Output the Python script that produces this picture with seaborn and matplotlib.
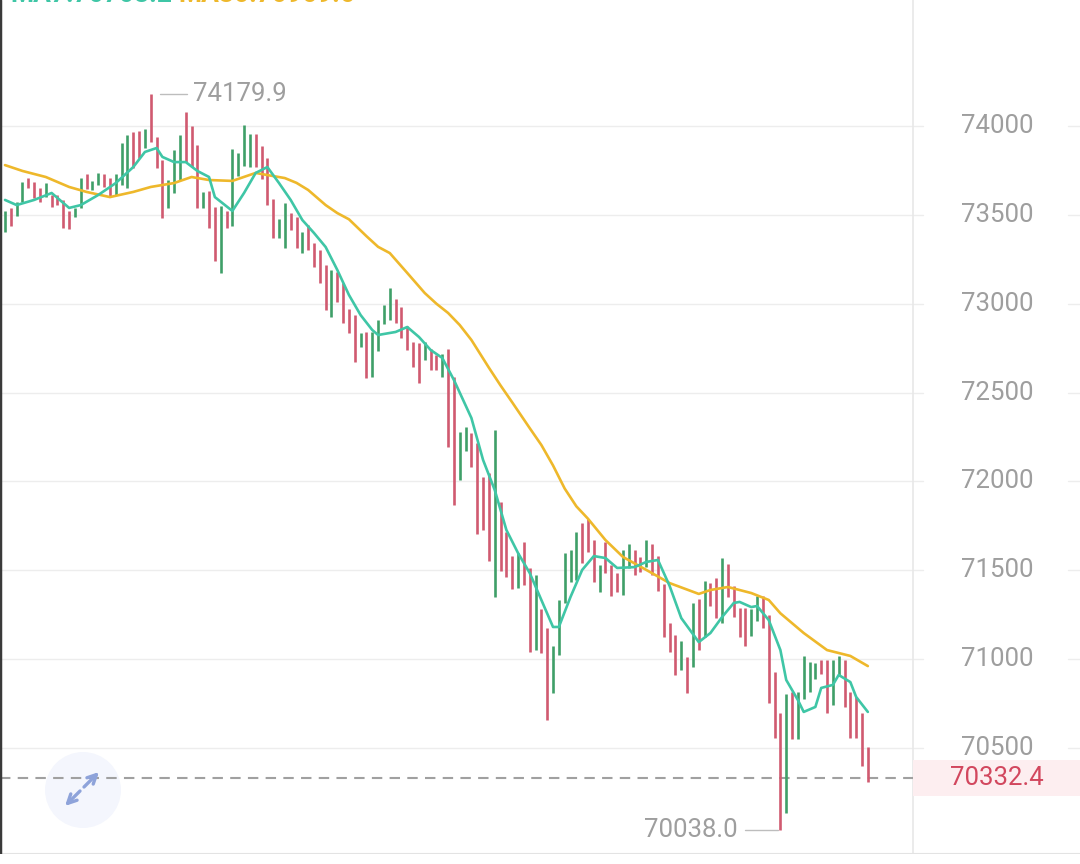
import numpy as np
import pandas as pd
import matplotlib
matplotlib.use("Agg")
import matplotlib.pyplot as plt
from matplotlib.patches import Ellipse, Rectangle
import seaborn as sns

# candle highs / lows / direction (G = up, R = down)
high = [73522, 73539, 73572, 73685, 73707, 73685, 73651, 73679, 73612, 73612,
        73584, 73522, 73539, 73707, 73730, 73691, 73736, 73730, 73707, 73730,
        73904, 73949, 73966, 73972, 73983, 74179.9, 73938, 73809, 73696, 73865,
        73949, 74079, 74000, 73893, 73629, 73634, 73544, 73550, 73522, 73871,
        73848, 74006, 73955, 73955, 73887, 73820, 73589, 73477, 73567, 73510,
        73488, 73404, 73443, 73342, 73302, 73218, 73190, 73178, 73117, 72970,
        72936, 72835, 72841, 72841, 72908, 72993, 73088, 73026, 72981, 72875,
        72785, 72779, 72785, 72745, 72711, 72717, 72745, 72588, 72278, 72306,
        72273, 72216, 72025, 72047, 72289, 71884, 71715, 71580, 71597, 71659,
        71513, 71473, 71282, 71175, 71074, 71333, 71597, 71614, 71715, 71766,
        71789, 71670, 71530, 71659, 71530, 71485, 71614, 71648, 71614, 71575,
        71670, 71648, 71580, 71423, 71203, 71136, 71102, 71012, 71316, 71338,
        71440, 71428, 71457, 71569, 71535, 71412, 71288, 71288, 71282, 71355,
        71355, 71248, 70928, 70697, 70804, 70815, 70815, 71017, 70984, 70978,
        70995, 70995, 70995, 71018, 70995, 70815, 70787, 70697, 70506]
low = [73404, 73437, 73494, 73572, 73651, 73595, 73572, 73600, 73544, 73555,
       73426, 73420, 73488, 73539, 73646, 73640, 73668, 73657, 73600, 73612,
       73668, 73651, 73764, 73820, 73876, 73910, 73764, 73482, 73539, 73623,
       73696, 73797, 73769, 73539, 73539, 73426, 73240, 73173, 73426, 73437,
       73719, 73775, 73769, 73769, 73702, 73555, 73370, 73370, 73314, 73415,
       73314, 73285, 73302, 73207, 73117, 72965, 72925, 73010, 72891, 72835,
       72672, 72756, 72582, 72588, 72734, 72886, 72908, 72891, 72807, 72740,
       72644, 72554, 72683, 72627, 72627, 72588, 72194, 71867, 72008, 72171,
       72081, 71704, 71727, 71552, 71350, 71496, 71462, 71395, 71400, 71417,
       71040, 71051, 71035, 70658, 70810, 71023, 71316, 71434, 71445, 71541,
       71603, 71434, 71378, 71485, 71355, 71378, 71361, 71513, 71473, 71490,
       71518, 71473, 71383, 71125, 71040, 70911, 70939, 70810, 70956, 71051,
       71125, 71299, 71231, 71203, 71350, 71237, 71125, 71074, 71130, 71215,
       71175, 70753, 70556, 70038.0, 70134, 70551, 70551, 70775, 70815, 70888,
       70916, 70697, 70742, 70905, 70731, 70556, 70556, 70399, 70309]
direction = list("GRGGRRRGRRRRGGRGGRRGGGRRGRRRGGGRRRGRRGRGGGGRRRRGGRRGRRRRGRRRRGRGGGGRRRRRGRRGRRGGRRRRGRRRGRRGRRGGGGGRRRGRRRGGRRGRRRRRGRGRGRRGRRRRGGRRRRGRGGGGRRGGRRRRR")
last_price = 70332.4

# moving averages read at selected candles
ma7_at = [1, 3, 6, 9, 12, 14, 17, 20, 23, 25, 27, 28, 30, 32, 34, 36, 37, 40, 42, 44,
          46, 48, 50, 52, 54, 56, 58, 60, 62, 64, 65, 68, 70, 72, 74, 76, 78, 81, 83, 85,
          87, 89, 91, 93, 95, 96, 98, 100, 102, 104, 106, 109, 111, 113, 115, 117, 120, 122,
          124, 126, 127, 129, 130, 132, 134, 135, 137, 138, 140, 141, 143, 144, 146, 147, 149]
ma7 = [73584, 73555, 73584, 73623, 73539, 73555, 73612, 73679, 73769, 73854, 73876, 73826,
       73797, 73797, 73747, 73713, 73600, 73522, 73623, 73736, 73769, 73679, 73584, 73471,
       73398, 73319, 73190, 73049, 72936, 72852, 72824, 72841, 72869, 72813, 72740, 72695,
       72571, 72357, 72121, 71952, 71727, 71597, 71485, 71333, 71181, 71181, 71350, 71502,
       71580, 71569, 71513, 71518, 71547, 71558, 71412, 71231, 71096, 71147, 71237, 71316,
       71322, 71293, 71299, 71220, 71051, 70883, 70770, 70703, 70731, 70838, 70855, 70911,
       70871, 70787, 70703]
ma30_at = [1, 4, 8, 12, 15, 19, 23, 26, 30, 33, 36, 40, 44, 46, 49, 51, 53, 56, 58, 60,
           63, 65, 67, 70, 73, 75, 77, 79, 81, 84, 86, 88, 91, 93, 95, 97, 99, 101, 104,
           107, 111, 115, 120, 122, 125, 129, 132, 134, 138, 142, 146, 149]
ma30 = [73780, 73747, 73713, 73657, 73629, 73600, 73629, 73657, 73679, 73713, 73696, 73691,
        73736, 73724, 73707, 73680, 73640, 73555, 73510, 73475, 73380, 73320, 73285, 73173,
        73060, 73000, 72948, 72880, 72796, 72640, 72540, 72445, 72300, 72205, 72090, 71960,
        71860, 71790, 71670, 71575, 71502, 71428, 71367, 71389, 71406, 71372, 71333, 71258,
        71147, 71051, 71018, 70961]
header_ma7 = "MA7:70708.2"
header_ma30 = "MA30:70969.6"
price_ticks = [70500, 71000, 71500, 72000, 72500, 73000, 73500, 74000]

GREEN = "#3f9f68"
RED = "#d05a70"
TEAL = "#3fc6a6"
GOLD = "#eeb82b"
GRAY = "#9e9e9e"

sns.set_style("white")
plt.rcParams["font.family"] = ["Roboto", "DejaVu Sans"]

W, H = 1080, 864
fig = plt.figure(figsize=(W / 100, H / 100), dpi=100)
ax = fig.add_axes([0, 1 - 854 / H, 1, 854 / H])

idx = np.arange(1, len(high) + 1)
candles = pd.DataFrame({"i": idx, "high": high, "low": low, "dir": direction})

# pixel geometry of the reference: candle 1 at x=5px, 5.83px per candle
step = 5.83
x0 = 1 - 5 / step
ax.set_xlim(x0, x0 + W / step)
ax.set_ylim(74709 - 5.627 * 854, 74709)
sep = 913 / W

for p in price_ticks:
    ax.axhline(p, xmin=0, xmax=923 / W, color="#ededed", lw=1, zorder=0)
    ax.axhline(p, xmin=1068 / W, xmax=1, color="#ededed", lw=1, zorder=0)
    ax.text(997 / W, p, f"{p}", transform=ax.get_yaxis_transform(), ha="center",
            va="center", fontsize=18.5, color=GRAY)

ax.axvline(x0 + sep * W / step, color="#e8e8e8", lw=1.2, zorder=0)

for d, col in (("G", GREEN), ("R", RED)):
    sub = candles[candles["dir"] == d]
    ax.vlines(sub["i"], sub["low"], sub["high"], colors=col, lw=1.9, zorder=2)

sns.lineplot(x=ma30_at, y=ma30, ax=ax, color=GOLD, lw=1.9, zorder=3)
sns.lineplot(x=ma7_at, y=ma7, ax=ax, color=TEAL, lw=1.9, zorder=4)

# last price line and tag
ax.axhline(last_price, xmin=0, xmax=sep, color="#a0a0a0", lw=1.5, ls=(0, (5, 3.5)), zorder=1)
ax.add_patch(Rectangle((sep, last_price - 100), 1 - sep, 200, transform=ax.get_yaxis_transform(),
                       facecolor="#fdeef0", edgecolor="none", zorder=1))
ax.text(997 / W, last_price, f"{last_price}", transform=ax.get_yaxis_transform(), ha="center",
        va="center", fontsize=18.5, color="#d2475e", zorder=5)

# high / low markers
hi_i = int(np.argmax(high)) + 1
lo_i = int(np.argmin(low)) + 1
ax.plot([hi_i + 9 / step, hi_i + 36 / step], [max(high)] * 2, color="#bdbdbd", lw=1)
ax.text(hi_i + 42 / step, max(high), f"{max(high)}", ha="left", va="center", fontsize=18.5, color=GRAY)
ax.plot([lo_i - 35 / step, lo_i - 2 / step], [min(low)] * 2, color="#bdbdbd", lw=1)
ax.text(lo_i - 43 / step, min(low), f"{min(low):.1f}", ha="right", va="center", fontsize=18.5, color=GRAY)

# frame
ax.axhline(ax.get_ylim()[0], color="#e3e3e3", lw=1.5)
ax.axvline(x0, color="#3a3a3a", lw=2.5)
for s in ax.spines.values():
    s.set_visible(False)
ax.set_xticks([])
ax.set_yticks([])

# expand icon
ax.add_patch(Ellipse((83 / W, 1 - 790 / H), 76 / W, 76 / H, transform=fig.transFigure,
                     facecolor="#f4f6fd", edgecolor="none", zorder=0.5))
arrow = dict(arrowstyle="->", color="#8ea3da", lw=2.4, mutation_scale=16, shrinkA=0, shrinkB=0)
ax.annotate("", xy=(99, H - 772), xytext=(84, H - 787), xycoords="figure pixels",
            arrowprops=arrow, zorder=6)
ax.annotate("", xy=(65, H - 806), xytext=(80, H - 791), xycoords="figure pixels",
            arrowprops=arrow, zorder=6)

# header, clipped by the top edge as in the reference
fig.text(10 / W, 1 - 2 / H, header_ma7, color=TEAL, fontsize=19, fontweight="bold",
         ha="left", va="baseline")
fig.text(178 / W, 1 - 2 / H, header_ma30, color=GOLD, fontsize=19, fontweight="bold",
         ha="left", va="baseline")

fig.savefig("out.png", dpi=100)
